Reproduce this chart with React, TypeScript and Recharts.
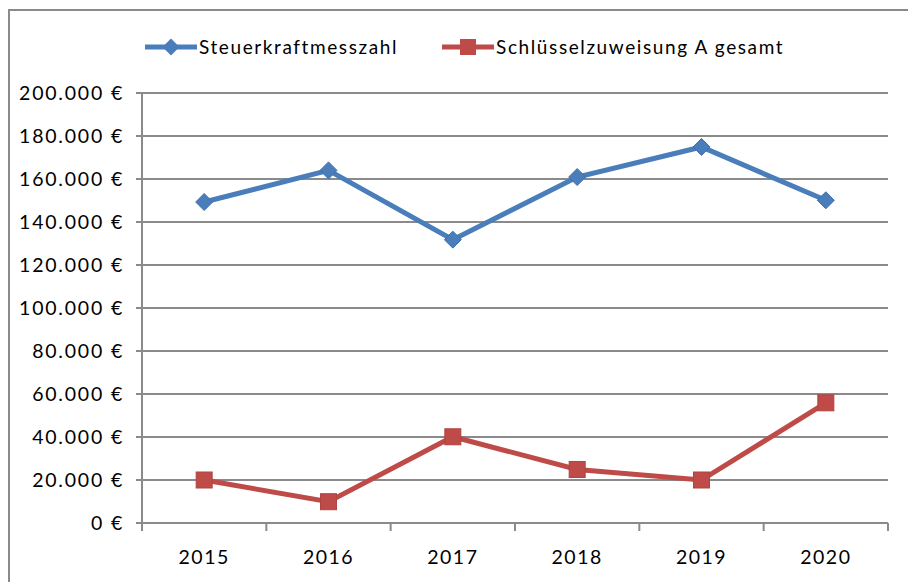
import React from "react";
import { LineChart, Line, XAxis, YAxis, CartesianGrid, Legend } from "recharts";

const years = ["2015", "2016", "2017", "2018", "2019", "2020"];
const steuerkraft = [149300, 164000, 131800, 160900, 174900, 150100];
const schluessel = [20000, 9900, 40100, 24900, 20000, 55900];
const yTicks = [0, 20000, 40000, 60000, 80000, 100000, 120000, 140000, 160000, 180000, 200000];

const SERIES_A = "Steuerkraftmesszahl";
const SERIES_B = "Schlüsselzuweisung A gesamt";

const data = years.map((y, i) => ({ year: y, a: steuerkraft[i], b: schluessel[i] }));

const W = 908;
const H = 582;
const LEFT = 142;
const RIGHT = 20;
const TOP = 93;
const BOTTOM = 59;
const PLOT_W = W - LEFT - RIGHT;
const BAND = PLOT_W / years.length;

const BLUE = "#4a7ebb";
const RED = "#be4b48";
const GRAY = "#8a8a8a";
const FONT = "Lato, 'Open Sans', sans-serif";

const fmt = (v: number) => {
  const s = String(Math.round(v));
  const out = s.replace(/\B(?=(\d{3})+(?!\d))/g, ".");
  return out + " €";
};

const Diamond = (props: any) => {
  const { cx, cy } = props;
  if (cx == null || cy == null) return null;
  const r = 8.5;
  return (
    <polygon
      points={`${cx},${cy - r} ${cx + r},${cy} ${cx},${cy + r} ${cx - r},${cy}`}
      fill={BLUE}
      stroke="#3f6fa8"
      strokeWidth={1}
    />
  );
};

const Square = (props: any) => {
  const { cx, cy } = props;
  if (cx == null || cy == null) return null;
  const r = 8;
  return <rect x={cx - r} y={cy - r} width={2 * r} height={2 * r} fill={RED} stroke="#b04441" strokeWidth={1} />;
};

const XTick = (props: any) => {
  const { x, y, payload, index } = props;
  const half = BAND / 2;
  const top = 523;
  return (
    <g>
      <line x1={x - half} x2={x - half} y1={top} y2={top + 8} stroke={GRAY} strokeWidth={2} />
      {index === years.length - 1 ? (
        <line x1={x + half} x2={x + half} y1={top} y2={top + 8} stroke={GRAY} strokeWidth={2} />
      ) : null}
      <text
        x={x}
        y={y + 33}
        textAnchor="middle"
        fill="#000"
        fontSize={19.5}
        fontFamily={FONT}
        letterSpacing={1.5}
      >
        {payload.value}
      </text>
    </g>
  );
};

const LegendIcon = ({ color, kind }: { color: string; kind: "d" | "s" }) => (
  <svg width={52} height={20} style={{ display: "block" }}>
    <line x1={0} x2={52} y1={10} y2={10} stroke={color} strokeWidth={5} />
    {kind === "d" ? (
      <polygon points="26,1.5 34.5,10 26,18.5 17.5,10" fill={color} />
    ) : (
      <rect x={18} y={2} width={16} height={16} fill={color} />
    )}
  </svg>
);

const LegendContent = () => (
  <div
    style={{
      display: "flex",
      alignItems: "center",
      fontFamily: FONT,
      fontSize: 19,
      letterSpacing: 1.6,
      color: "#000",
      whiteSpace: "nowrap",
    }}
  >
    <LegendIcon color={BLUE} kind="d" />
    <span style={{ marginLeft: 2 }}>{SERIES_A}</span>
    <span style={{ width: 44 }} />
    <LegendIcon color={RED} kind="s" />
    <span style={{ marginLeft: 2 }}>{SERIES_B}</span>
  </div>
);

export default function App() {
  return (
    <div style={{ position: "absolute", left: 0, top: 0, width: W, height: H, background: "#fff", overflow: "hidden" }}>
      <div
        style={{
          position: "absolute",
          left: 8,
          top: 9,
          width: 940,
          height: 620,
          border: `2px solid ${GRAY}`,
          boxSizing: "border-box",
        }}
      />
      <div style={{ position: "absolute", left: 0, top: 0 }}>
        <LineChart
          width={W}
          height={H}
          data={data}
          margin={{ top: TOP, right: RIGHT, bottom: 0, left: 0 }}
        >
          <CartesianGrid vertical={false} horizontal={true} stroke={GRAY} strokeWidth={2} />
          <XAxis
            dataKey="year"
            scale="band"
            height={BOTTOM}
            axisLine={{ stroke: GRAY, strokeWidth: 2 }}
            tickLine={false}
            tick={<XTick />}
            interval={0}
          />
          <YAxis
            width={LEFT}
            domain={[0, 200000]}
            ticks={yTicks}
            tickFormatter={fmt}
            axisLine={{ stroke: GRAY, strokeWidth: 2 }}
            tickLine={{ stroke: GRAY, strokeWidth: 2 }}
            tickSize={6}
            tickMargin={12}
            tick={{ fill: "#000", fontSize: 19.5, fontFamily: FONT, letterSpacing: 1.8 }}
            interval={0}
          />
          <Legend
            layout="horizontal"
            verticalAlign="middle"
            align="center"
            content={<LegendContent />}
            wrapperStyle={{ position: "absolute", top: 35, left: 145, width: "auto" }}
          />
          <Line
            type="linear"
            dataKey="a"
            name={SERIES_A}
            stroke={BLUE}
            strokeWidth={5}
            dot={<Diamond />}
            activeDot={false}
            isAnimationActive={false}
          />
          <Line
            type="linear"
            dataKey="b"
            name={SERIES_B}
            stroke={RED}
            strokeWidth={5}
            dot={<Square />}
            activeDot={false}
            isAnimationActive={false}
          />
        </LineChart>
      </div>
    </div>
  );
}
